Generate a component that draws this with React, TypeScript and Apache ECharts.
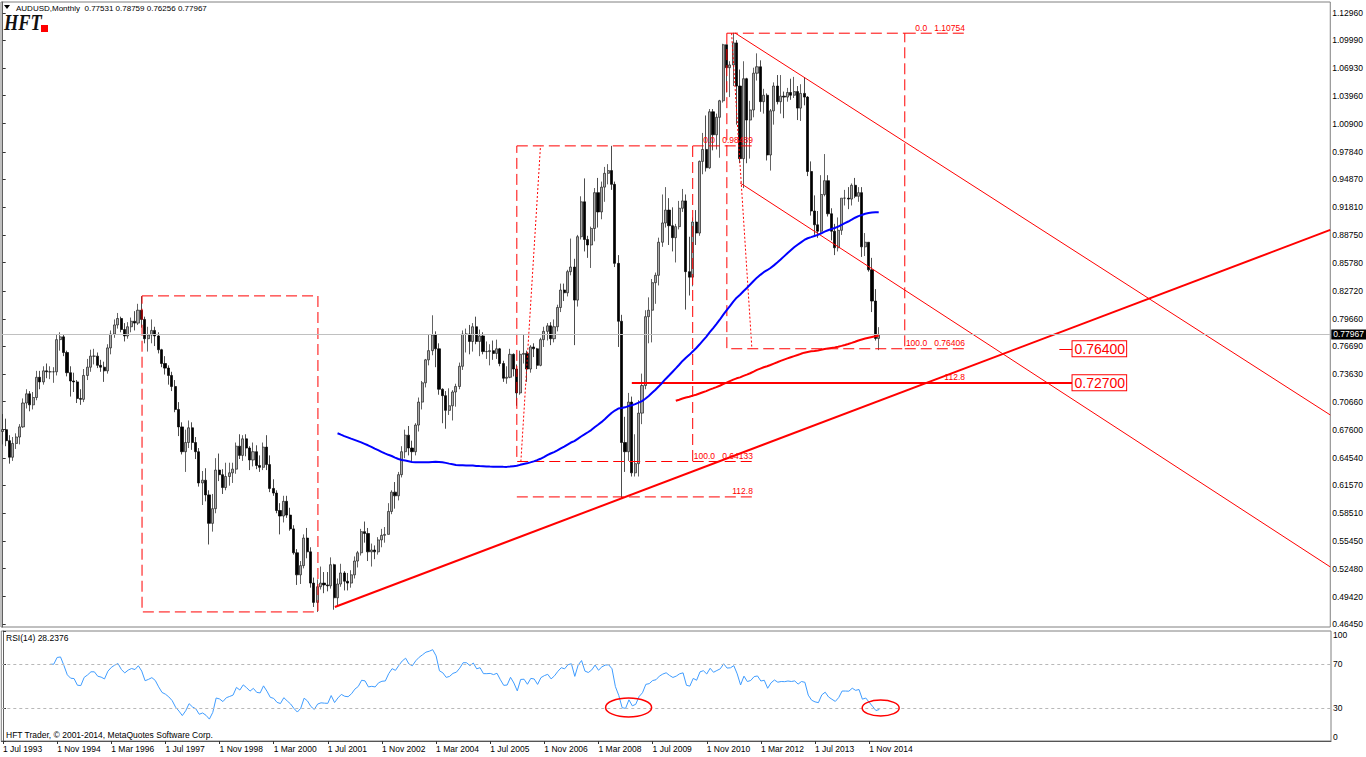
import React, { useEffect, useRef } from 'react';
import * as echarts from 'echarts';

// ---------- categories (monthly bars, 1 Jul 1993 ... visible range) ----------
const MONTH_NAMES = ['Jan', 'Feb', 'Mar', 'Apr', 'May', 'Jun', 'Jul', 'Aug', 'Sep', 'Oct', 'Nov', 'Dec'];
const START_YEAR = 1993;
const START_MONTH = 6; // July
const VISIBLE_MONTHS = 393;
const categories: string[] = Array.from({ length: VISIBLE_MONTHS }, (_, i) => {
  const m = START_MONTH + i;
  return `1 ${MONTH_NAMES[m % 12]} ${START_YEAR + Math.floor(m / 12)}`;
});
const timeLabelIdx = [0, 16, 32, 48, 64, 80, 96, 112, 128, 144, 160, 176, 192, 208, 224, 240, 256];

// ---------- AUDUSD monthly OHLC (open = previous close) ----------
const firstOpen = 0.674;
const closes = [
  0.6760, 0.6640, 0.6460, 0.6610, 0.6680, 0.6790,
  0.7050, 0.7150, 0.7030, 0.7110, 0.7330, 0.7280, 0.7400, 0.7390, 0.7390, 0.7390, 0.7740, 0.7770,
  0.7600, 0.7380, 0.7290, 0.7280, 0.7100, 0.7090, 0.7350, 0.7440, 0.7560, 0.7560, 0.7460, 0.7440,
  0.7400, 0.7650, 0.7800, 0.7900, 0.7970, 0.7850, 0.7780, 0.7880, 0.7940, 0.7920, 0.8060, 0.7960,
  0.7750, 0.7790, 0.7840, 0.7780, 0.7630, 0.7480, 0.7430, 0.7350, 0.7230, 0.6980, 0.6790, 0.6520,
  0.6620, 0.6780, 0.6620, 0.6520, 0.6180, 0.6210, 0.6050, 0.5740, 0.5900, 0.6320, 0.6270, 0.6130,
  0.6250, 0.6290, 0.6330, 0.6580, 0.6480, 0.6660, 0.6560, 0.6430, 0.6520, 0.6370, 0.6350, 0.6570,
  0.6380, 0.6120, 0.6070, 0.5880, 0.5820, 0.5980, 0.5830, 0.5680, 0.5420, 0.5180, 0.5280, 0.5580,
  0.5430, 0.5090, 0.4880, 0.5050, 0.5090, 0.5070, 0.5060, 0.5290, 0.4930, 0.5080, 0.5200, 0.5110,
  0.5090, 0.5180, 0.5330, 0.5420, 0.5650, 0.5630, 0.5430, 0.5450, 0.5430, 0.5560, 0.5610, 0.5620,
  0.5870, 0.6080, 0.6040, 0.6270, 0.6520, 0.6700, 0.6560, 0.6520, 0.6810, 0.7060, 0.7270, 0.7520,
  0.7620, 0.7790, 0.7640, 0.7200, 0.7130, 0.6970, 0.7020, 0.7170, 0.7230, 0.7450, 0.7800, 0.7800,
  0.7720, 0.7880, 0.7720, 0.7780, 0.7610, 0.7610, 0.7620, 0.7590, 0.7640, 0.7480, 0.7320, 0.7330,
  0.7580, 0.7420, 0.7160, 0.7580, 0.7590, 0.7420, 0.7660, 0.7640, 0.7460, 0.7740, 0.7830, 0.7890,
  0.7750, 0.7880, 0.8090, 0.8280, 0.8250, 0.8480, 0.8530, 0.8170, 0.8860, 0.9240, 0.8830, 0.8770,
  0.8950, 0.9340, 0.9130, 0.9400, 0.9550, 0.9580, 0.9430, 0.8570, 0.7940, 0.6620, 0.6520, 0.7060,
  0.6290, 0.6390, 0.6940, 0.7240, 0.7990, 0.8060, 0.8360, 0.8440, 0.8800, 0.9010, 0.9150, 0.8980,
  0.8850, 0.8970, 0.9170, 0.9250, 0.8480, 0.8420, 0.9020, 0.8900, 0.9680, 0.9810, 0.9610, 1.0220,
  0.9970, 1.0160, 1.0340, 1.0950, 1.0700, 1.0730, 1.0970, 1.0500, 0.9710, 1.0580, 1.0130, 1.0240,
  1.0640, 1.0710, 1.0330, 1.0400, 0.9750, 1.0230, 1.0500, 1.0330, 1.0390, 1.0380, 1.0430, 1.0400,
  1.0440, 1.0260, 1.0420, 1.0380, 0.9570, 0.9140, 0.8990, 0.8920, 0.9320, 0.9470, 0.9110, 0.8920,
  0.8740, 0.8930, 0.9280, 0.9280, 0.9270, 0.9420, 0.9300, 0.9340, 0.8750, 0.8800, 0.8500, 0.8160,
  0.77531, 0.77967,
];
const highs = [
  0.6930, 0.6880, 0.6700, 0.6680, 0.6720, 0.6820,
  0.7100, 0.7200, 0.7180, 0.7170, 0.7400, 0.7400, 0.7450, 0.7480, 0.7450, 0.7440, 0.7800, 0.7820,
  0.7800, 0.7620, 0.7450, 0.7380, 0.7300, 0.7200, 0.7420, 0.7530, 0.7630, 0.7640, 0.7600, 0.7520,
  0.7500, 0.7690, 0.7840, 0.7960, 0.8030, 0.7990, 0.7920, 0.7930, 0.7980, 0.8050, 0.8130, 0.8213,
  0.7990, 0.7880, 0.7960, 0.7880, 0.7820, 0.7640, 0.7560, 0.7460, 0.7390, 0.7300, 0.7060, 0.6840,
  0.6760, 0.6860, 0.6840, 0.6680, 0.6560, 0.6310, 0.6340, 0.6100, 0.6060, 0.6450, 0.6500, 0.6330,
  0.6400, 0.6400, 0.6400, 0.6620, 0.6710, 0.6700, 0.6710, 0.6580, 0.6620, 0.6590, 0.6480, 0.6620,
  0.6700, 0.6480, 0.6220, 0.6100, 0.5960, 0.6040, 0.6040, 0.5910, 0.5720, 0.5460, 0.5330, 0.5620,
  0.5690, 0.5480, 0.5150, 0.5130, 0.5270, 0.5210, 0.5210, 0.5370, 0.5300, 0.5140, 0.5300, 0.5220,
  0.5200, 0.5230, 0.5380, 0.5440, 0.5680, 0.5760, 0.5690, 0.5520, 0.5500, 0.5590, 0.5680, 0.5700,
  0.5960, 0.6100, 0.6190, 0.6300, 0.6580, 0.6760, 0.6800, 0.6640, 0.6830, 0.7110, 0.7290, 0.7530,
  0.7790, 0.8005, 0.7830, 0.7700, 0.7210, 0.7180, 0.7210, 0.7190, 0.7260, 0.7490, 0.7840, 0.7860,
  0.7900, 0.7920, 0.7990, 0.7850, 0.7820, 0.7720, 0.7690, 0.7730, 0.7740, 0.7650, 0.7510, 0.7450,
  0.7640, 0.7590, 0.7470, 0.7620, 0.7790, 0.7620, 0.7680, 0.7700, 0.7650, 0.7760, 0.7880, 0.7920,
  0.7930, 0.7960, 0.8120, 0.8350, 0.8350, 0.8500, 0.8840, 0.8620, 0.8880, 0.9300, 0.9495, 0.8870,
  0.8970, 0.9390, 0.9500, 0.9460, 0.9620, 0.9650, 0.9849, 0.9460, 0.8660, 0.8010, 0.6900, 0.7160,
  0.7120, 0.6710, 0.7080, 0.7370, 0.8060, 0.8200, 0.8400, 0.8470, 0.8850, 0.9320, 0.9400, 0.9280,
  0.9180, 0.9000, 0.9250, 0.9380, 0.9320, 0.8860, 0.9070, 0.9150, 0.9690, 0.9990, 1.0180, 1.0250,
  1.0250, 1.0200, 1.0350, 1.0960, 1.0950, 1.0770, 1.1080, 1.1000, 1.0680, 1.0770, 1.0590, 1.0340,
  1.0700, 1.0856, 1.0780, 1.0470, 1.0420, 1.0250, 1.0540, 1.0620, 1.0620, 1.0440, 1.0480, 1.0580,
  1.0600, 1.0500, 1.0520, 1.0597, 1.0390, 0.9680, 0.9310, 0.9140, 0.9530, 0.9760, 0.9530, 0.9170,
  0.9000, 0.9070, 0.9280, 0.9370, 0.9400, 0.9440, 0.9500, 0.9400, 0.9400, 0.8900, 0.8800, 0.8630,
  0.8290, 0.78759,
];
const lows = [
  0.6600, 0.6580, 0.6390, 0.6420, 0.6550, 0.6600,
  0.6780, 0.6990, 0.6960, 0.6980, 0.7080, 0.7200, 0.7250, 0.7320, 0.7310, 0.7270, 0.7350, 0.7620,
  0.7560, 0.7340, 0.7120, 0.7170, 0.7050, 0.7030, 0.7060, 0.7300, 0.7390, 0.7470, 0.7430, 0.7390,
  0.7280, 0.7370, 0.7580, 0.7760, 0.7860, 0.7820, 0.7720, 0.7750, 0.7820, 0.7840, 0.7900, 0.7870,
  0.7700, 0.7610, 0.7700, 0.7670, 0.7590, 0.7440, 0.7360, 0.7250, 0.7180, 0.6950, 0.6690, 0.6490,
  0.6300, 0.6560, 0.6540, 0.6440, 0.6140, 0.5940, 0.5980, 0.5510, 0.5650, 0.5850, 0.6200, 0.6060,
  0.6100, 0.6150, 0.6180, 0.6280, 0.6440, 0.6420, 0.6470, 0.6320, 0.6360, 0.6330, 0.6300, 0.6320,
  0.6320, 0.6080, 0.6040, 0.5850, 0.5620, 0.5750, 0.5800, 0.5660, 0.5400, 0.5070, 0.5080, 0.5250,
  0.5360, 0.5040, 0.4830, 0.4775, 0.5020, 0.4980, 0.5000, 0.5030, 0.4800, 0.4850, 0.5050, 0.5010,
  0.5010, 0.5040, 0.5140, 0.5260, 0.5390, 0.5530, 0.5330, 0.5270, 0.5350, 0.5400, 0.5480, 0.5530,
  0.5620, 0.5840, 0.5900, 0.5990, 0.6240, 0.6450, 0.6480, 0.6420, 0.6480, 0.6740, 0.6980, 0.7220,
  0.7460, 0.7570, 0.7440, 0.7140, 0.6830, 0.6770, 0.6920, 0.6860, 0.7010, 0.7200, 0.7410, 0.7600,
  0.7580, 0.7610, 0.7690, 0.7560, 0.7580, 0.7530, 0.7460, 0.7520, 0.7530, 0.7450, 0.7280, 0.7260,
  0.7320, 0.7340, 0.7020, 0.7140, 0.7480, 0.7280, 0.7380, 0.7550, 0.7420, 0.7450, 0.7660, 0.7730,
  0.7680, 0.7710, 0.7830, 0.8040, 0.8160, 0.8210, 0.8440, 0.7680, 0.8100, 0.8830, 0.8700, 0.8630,
  0.8520, 0.8810, 0.8960, 0.9050, 0.9240, 0.9430, 0.9370, 0.8530, 0.7660, 0.6009, 0.6300, 0.6420,
  0.6250, 0.6250, 0.6250, 0.6820, 0.7200, 0.7700, 0.7710, 0.8130, 0.8330, 0.8750, 0.8960, 0.8770,
  0.8700, 0.8580, 0.8940, 0.9130, 0.8067, 0.8220, 0.8320, 0.8770, 0.8870, 0.9540, 0.9570, 0.9600,
  0.9800, 0.9810, 0.9720, 1.0320, 1.0430, 1.0380, 1.0500, 1.0080, 0.9660, 0.9390, 0.9660, 0.9710,
  1.0160, 1.0560, 1.0220, 1.0200, 0.9690, 0.9580, 1.0080, 1.0300, 1.0200, 1.0150, 1.0330, 1.0350,
  1.0370, 1.0130, 1.0120, 1.0290, 0.9520, 0.9090, 0.8880, 0.8848, 0.8890, 0.9300, 0.9080, 0.8820,
  0.8660, 0.8700, 0.8880, 0.9200, 0.9160, 0.9200, 0.9280, 0.9240, 0.8640, 0.8650, 0.8480, 0.8040,
  0.7730, 0.76256,
];

// ---------- axes ----------
const priceTicks = [
  1.1296, 1.0999, 1.0693, 1.0396, 1.009, 0.9784, 0.9487, 0.9181, 0.8875, 0.8578, 0.8272, 0.7966,
  0.7669, 0.7363, 0.7066, 0.676, 0.6454, 0.6157, 0.5851, 0.5545, 0.5248, 0.4942, 0.4645,
];
const rsiTicks = [0, 30, 70, 100];
const rsiLevels = [70, 30];
const PRICE_MIN = 0.4612;
const PRICE_MAX = 1.1415;

// ---------- header values ----------
const symbolTitle = 'AUDUSD,Monthly';
const lastQuote = [0.77531, 0.78759, 0.76256, 0.77967];
const rsiLast = 28.2376;

// ---------- drawn objects (bar index, price) ----------
const box1 = { x1: 41.2, x2: 93.2, top: 0.8216, bottom: 0.4776 };
const fibA = { x1: 152, x2: 204, xEnd: 221.8, top: 0.98489, bottom: 0.64133, ext: 0.6028, trend: [[153.2, 0.64133], [159, 0.98489]] };
const fibB = { x1: 214.1, x2: 266.7, xEnd: 284.5, top: 1.10754, bottom: 0.76406, ext: 0.727, trend: [[215.5, 1.10754], [221.5, 0.76406]] };
const supportLine = [[98.2, 0.483], [392.5, 0.8934]];
const channelTop = [[216.5, 1.1078], [392.5, 0.692]];
const channelBottom = [[218, 0.9446], [392.5, 0.5266]];
const priceLevels = [
  { value: 0.764, from: 312.4, to: 316.3 },
  { value: 0.727, from: 186, to: 316.3 },
];
const rsiMarks = [
  { x: 184.9, y: 30.5 },
  { x: 259.4, y: 30 },
];

// ---------- indicator helpers ----------
const opens = closes.map((_, i) => (i === 0 ? firstOpen : closes[i - 1]));
function sma(src: number[], period: number) {
  const out: number[][] = [];
  for (let i = period - 1; i < src.length; i++) {
    let s = 0;
    for (let k = i - period + 1; k <= i; k++) s += src[k];
    out.push([i, s / period]);
  }
  return out;
}
function rsi(src: number[], period: number) {
  const out: number[][] = [];
  let g = 0;
  let l = 0;
  for (let i = 1; i <= period; i++) {
    const d = src[i] - src[i - 1];
    if (d > 0) g += d; else l -= d;
  }
  g /= period;
  l /= period;
  out.push([period, l === 0 ? 100 : 100 - 100 / (1 + g / l)]);
  for (let i = period + 1; i < src.length; i++) {
    const d = src[i] - src[i - 1];
    g = (g * (period - 1) + Math.max(d, 0)) / period;
    l = (l * (period - 1) + Math.max(-d, 0)) / period;
    out.push([i, l === 0 ? 100 : 100 - 100 / (1 + g / l)]);
  }
  return out;
}

const FONT = 'Liberation Sans, Arial, sans-serif';
const RED = '#ff0000';

type Fib = typeof fibA;
const fibTexts = (f: Fib) => [
  { x: f.xEnd, y: f.top, text: `0.0   ${f.top.toFixed(5)}` },
  { x: f.xEnd, y: f.bottom, text: `100.0   ${f.bottom.toFixed(5)}` },
  { x: f.xEnd, y: f.ext, text: '112.8' },
];

function lineSeries(pts: number[][], width: number, type: any, z = 4) {
  return {
    type: 'line',
    xAxisIndex: 0,
    yAxisIndex: 0,
    data: pts,
    symbol: 'none',
    silent: true,
    lineStyle: { color: RED, width, type },
    z,
  };
}
const rectPts = (x1: number, x2: number, top: number, bottom: number) => [
  [x1, top], [x2, top], [x2, bottom], [x1, bottom], [x1, top],
];

function buildOption() {
  const candles = closes.map((c, i) => [i, opens[i], c, lows[i], highs[i]]);
  const fibSeries = (f: Fib) => [
    lineSeries(rectPts(f.x1, f.x2, f.top, f.bottom), 1, [11, 5]),
    lineSeries([[f.x2, f.top], [f.xEnd, f.top]], 1, [11, 5]),
    lineSeries([[f.x2, f.bottom], [f.xEnd, f.bottom]], 1, [11, 5]),
    lineSeries([[f.x1, f.ext], [f.xEnd, f.ext]], 1, [11, 5]),
    lineSeries(f.trend, 1, [2, 2]),
  ];
  const levelLines = priceLevels.map((lv) => {
    const ls = { color: RED, width: lv.to - lv.from > 20 ? 2 : 1, type: 'solid' };
    return [
      {
        coord: [lv.from, lv.value],
        lineStyle: ls,
        label: {
          show: true,
          position: 'end',
          distance: 0,
          formatter: lv.value.toFixed(5),
          color: RED,
          fontSize: 14,
          fontFamily: FONT,
          backgroundColor: '#ffffff',
          borderColor: RED,
          borderWidth: 1,
          padding: [1, 1, 0, 2],
        },
      },
      { coord: [lv.to, lv.value], lineStyle: ls },
    ];
  });

  return {
    animation: false,
    backgroundColor: '#ffffff',
    grid: [
      { left: 1, top: 2, width: 1330, height: 625, show: true, borderColor: '#808080', borderWidth: 1, backgroundColor: '#ffffff' },
      { left: 1, top: 631, width: 1330, height: 110, show: true, borderColor: '#808080', borderWidth: 1, backgroundColor: '#ffffff' },
    ],
    xAxis: [
      {
        type: 'value', gridIndex: 0, min: -0.5, max: VISIBLE_MONTHS - 0.5,
        axisLine: { show: false }, axisTick: { show: false }, axisLabel: { show: false }, splitLine: { show: false },
      },
      {
        type: 'value', gridIndex: 1, min: -0.5, max: VISIBLE_MONTHS - 0.5,
        axisLine: { show: true, onZero: false, lineStyle: { color: '#555555', width: 1 } },
        axisTick: { show: true, customValues: timeLabelIdx, length: 3, lineStyle: { color: '#333333' } },
        axisLabel: {
          customValues: timeLabelIdx,
          formatter: (v: number) => categories[Math.round(v)],
          align: 'left', margin: 3, fontSize: 8.5, color: '#000000', fontFamily: FONT,
        },
        splitLine: { show: false },
      },
    ],
    yAxis: [
      {
        type: 'value', gridIndex: 0, position: 'right', min: PRICE_MIN, max: PRICE_MAX,
        axisLine: { show: true, lineStyle: { color: '#606060' } },
        axisTick: { show: true, customValues: priceTicks, length: 3, lineStyle: { color: '#333333' } },
        axisLabel: { customValues: priceTicks, formatter: (v: number) => v.toFixed(5), margin: 2, fontSize: 8.5, color: '#000000', fontFamily: FONT },
        splitLine: { show: false },
      },
      {
        type: 'value', gridIndex: 1, position: 'right', min: 0, max: 100,
        axisLine: { show: true, lineStyle: { color: '#606060' } },
        axisTick: { show: true, customValues: rsiTicks, length: 3, lineStyle: { color: '#333333' } },
        axisLabel: {
          customValues: rsiTicks,
          formatter: (v: number) => (v === 100 ? '{t|100}' : v === 0 ? '{b|0}' : String(v)),
          rich: { t: { padding: [8, 0, 0, 0], fontSize: 8.5, fontFamily: FONT }, b: { padding: [0, 0, 8, 0], fontSize: 8.5, fontFamily: FONT } },
          margin: 2, fontSize: 8.5, color: '#000000', fontFamily: FONT,
        },
        splitLine: { show: false },
      },
    ],
    series: [
      {
        type: 'candlestick',
        name: 'AUDUSD',
        xAxisIndex: 0,
        yAxisIndex: 0,
        data: candles,
        encode: { x: 0, y: [1, 2, 3, 4] },
        barWidth: 2.6,
        silent: true,
        z: 3,
        itemStyle: { color: '#a8a8a8', color0: '#000000', borderColor: '#202020', borderColor0: '#000000', borderWidth: 0.7 },
        markLine: {
          silent: true,
          symbol: ['none', 'none'],
          precision: 5,
          data: [
            {
              yAxis: lastQuote[3],
              lineStyle: { color: '#c0c0c0', width: 1, type: 'solid' },
              label: {
                show: true, position: 'end', distance: 1, formatter: lastQuote[3].toFixed(5),
                color: '#ffffff', backgroundColor: '#000000', padding: [1, 2, 0, 2], fontSize: 8.5, fontFamily: FONT,
              },
            },
            ...levelLines,
          ],
        },
      },
      lineSeries(rectPts(box1.x1, box1.x2, box1.top, box1.bottom), 1, [11, 5]),
      ...fibSeries(fibA),
      ...fibSeries(fibB),
      {
        type: 'line', name: 'MA100', xAxisIndex: 0, yAxisIndex: 0, data: sma(closes, 100),
        symbol: 'none', silent: true, lineStyle: { color: '#0000ff', width: 2 }, z: 5,
      },
      {
        type: 'line', name: 'MA200', xAxisIndex: 0, yAxisIndex: 0, data: sma(closes, 200),
        symbol: 'none', silent: true, lineStyle: { color: RED, width: 2 }, z: 5,
      },
      lineSeries(supportLine, 2, 'solid'),
      lineSeries(channelTop, 1, 'solid'),
      lineSeries(channelBottom, 1, 'solid'),
      {
        type: 'line', name: 'RSI(14)', xAxisIndex: 1, yAxisIndex: 1, data: rsi(closes, 14),
        symbol: 'none', silent: true, lineStyle: { color: '#3f9cff', width: 1 },
        markLine: {
          silent: true, symbol: ['none', 'none'], label: { show: false },
          lineStyle: { color: '#b8b8b8', width: 1, type: [3, 3] },
          data: rsiLevels.map((v) => ({ yAxis: v })),
        },
      },
    ],
  };
}

export default function App() {
  const ref = useRef<HTMLDivElement>(null);
  useEffect(() => {
    const chart = echarts.init(ref.current as HTMLDivElement, null, { renderer: 'svg' });
    chart.setOption(buildOption() as any);
    const ellipses = rsiMarks.map((m, i) => {
      const p = chart.convertToPixel({ gridIndex: 1 } as any, [m.x, m.y]) as number[];
      return {
        type: 'ellipse',
        silent: true,
        z: 20,
        shape: { cx: p[0], cy: p[1], rx: i === 0 ? 23 : 18.5, ry: i === 0 ? 9.5 : 8 },
        style: { fill: 'none', stroke: RED, lineWidth: 1.5 },
      };
    });
    const fibLabels = [...fibTexts(fibA), ...fibTexts(fibB)].map((t) => {
      const p = chart.convertToPixel({ gridIndex: 0 } as any, [t.x, t.y]) as number[];
      return {
        type: 'text', silent: true, z: 15, x: p[0], y: p[1] - 1,
        style: { text: t.text, fill: RED, fontSize: 8.5, fontFamily: FONT, align: 'right', verticalAlign: 'bottom' },
      };
    });
    chart.setOption({
      graphic: [
        { type: 'polygon', silent: true, z: 20, shape: { points: [[4, 5], [10, 5], [7, 9]] }, style: { fill: '#000' } },
        {
          type: 'text', silent: true, z: 20, x: 16, y: 8,
          style: { text: `${symbolTitle}  ${lastQuote.map((v) => v.toFixed(5)).join(' ')}`, fill: '#000', fontSize: 8, fontFamily: FONT, verticalAlign: 'middle' },
        },
        {
          type: 'text', silent: true, z: 20, x: 4, y: 11, scaleX: 0.8,
          style: { text: 'HFT', fill: '#111', fontSize: 23, fontWeight: 'bold', fontStyle: 'italic', fontFamily: 'Liberation Serif, serif', verticalAlign: 'top' },
        },
        { type: 'rect', silent: true, z: 20, shape: { x: 41, y: 25, width: 7, height: 7 }, style: { fill: RED } },
        {
          type: 'text', silent: true, z: 20, x: 6, y: 638,
          style: { text: `RSI(14) ${rsiLast.toFixed(4)}`, fill: '#000', fontSize: 8.5, fontFamily: FONT, verticalAlign: 'middle' },
        },
        {
          type: 'text', silent: true, z: 20, x: 6, y: 735,
          style: { text: 'HFT Trader, © 2001-2014, MetaQuotes Software Corp.', fill: '#000', fontSize: 8.5, fontFamily: FONT, verticalAlign: 'middle' },
        },
        ...fibLabels,
        ...ellipses,
      ],
    } as any);
    return () => chart.dispose();
  }, []);
  return <div ref={ref} style={{ position: 'fixed', left: 0, top: 0, width: 1366, height: 757, background: '#ffffff' }} />;
}
